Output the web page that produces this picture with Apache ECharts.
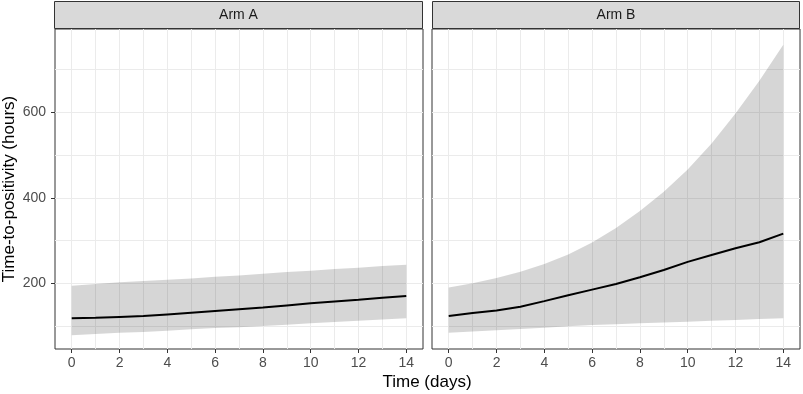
<!DOCTYPE html>
<html>
<head>
<meta charset="utf-8">
<script src="https://cdn.jsdelivr.net/npm/echarts@6/dist/echarts.min.js"></script>
<style>
  html, body { margin: 0; padding: 0; background: #fff; }
  #container_01 { width: 803px; height: 394px; }
</style>
</head>
<body>
<div id="container_01"></div>
<script>
// data
const days = [0, 1, 2, 3, 4, 5, 6, 7, 8, 9, 10, 11, 12, 13, 14];

const armA_mean  = [118, 119, 121, 123, 127, 131, 135, 139, 143, 148, 153, 157, 161, 166, 170];
const armA_lower = [78, 81, 84, 86, 89, 92, 95, 97, 100, 103, 106, 109, 112, 115, 118];
const armA_upper = [194, 198, 202, 205, 208, 211, 215, 218, 222, 226, 229, 233, 236, 240, 243];

const armB_mean  = [123, 130, 136, 145, 158, 172, 185, 198, 214, 231, 250, 266, 282, 296, 316];
const armB_lower = [84, 87, 90, 93, 96, 99, 102, 104, 106, 108, 110, 112, 114, 116, 118];
const armB_upper = [190, 200, 212, 227, 245, 267, 295, 329, 369, 414, 466, 527, 597, 674, 758];

const panels = ['Arm A', 'Arm B'];

// tick labels / grid lines
const xTicks = [0, 2, 4, 6, 8, 10, 12, 14];
const xGrid  = [0, 1, 2, 3, 4, 5, 6, 7, 8, 9, 10, 11, 12, 13, 14];
const yTicks = [200, 400, 600];
const yGrid  = [100, 200, 300, 400, 500, 600, 700];

const font = "'Liberation Sans', Arial, sans-serif";
const xMin = -0.7, xMax = 14.7;
const yMin = 46, yMax = 795;

function pairs(xs, ys) {
    return xs.map(function (x, i) { return [x, ys[i]]; });
}

// ribbon (custom polygon) + mean line for one panel
function armSeries(idx, lower, upper, mean) {
    let xi = idx * 2, yi = idx === 0 ? 0 : 2;
    let rows = days.map(function (d, i) { return [d, lower[i], upper[i]]; });
    return [
        {
            type: 'custom', xAxisIndex: xi, yAxisIndex: yi, silent: true, z: 2,
            encode: { x: 0, y: [1, 2] },
            renderItem: function (params, api) {
                if (params.dataIndex !== 0) return;
                let pts = [];
                for (let i = 0; i < days.length; i++) pts.push(api.coord([days[i], upper[i]]));
                for (let i = days.length - 1; i >= 0; i--) pts.push(api.coord([days[i], lower[i]]));
                return { type: 'polygon', shape: { points: pts }, style: { fill: 'rgba(0,0,0,0.16)' } };
            },
            data: rows
        },
        {
            type: 'line', xAxisIndex: xi, yAxisIndex: yi,
            symbol: 'none', silent: true, z: 5,
            lineStyle: { color: '#000', width: 2 },
            data: pairs(days, mean)
        }
    ];
}

// x axes: one for grid lines, one for ticks + labels, per panel
function xAxes(g) {
    return [
        {
            gridIndex: g, type: 'value', min: xMin, max: xMax, position: 'bottom',
            axisLine: { show: false, onZero: false },
            axisTick: { show: false, customValues: xGrid },
            axisLabel: { show: false },
            splitLine: { show: true, lineStyle: { color: '#EBEBEB', width: 1 } }
        },
        {
            gridIndex: g, type: 'value', min: xMin, max: xMax, position: 'bottom',
            axisLine: { show: false, onZero: false },
            axisTick: { show: true, length: 4, customValues: xTicks, lineStyle: { color: '#333' } },
            axisLabel: { customValues: xTicks, color: '#4D4D4D', fontSize: 14, fontFamily: font, margin: 7 },
            splitLine: { show: false }
        }
    ];
}

var chartDom = document.getElementById('container_01');
var myChart = echarts.init(chartDom, null, { renderer: 'canvas' });
var option;

option = {
    animation: false,
    backgroundColor: '#fff',
    grid: [
        { left: 54, top: 29, width: 369, height: 320, show: true, borderColor: '#333', borderWidth: 1, backgroundColor: 'transparent' },
        { left: 432, top: 29, width: 368, height: 320, show: true, borderColor: '#333', borderWidth: 1, backgroundColor: 'transparent' }
    ],
    xAxis: xAxes(0).concat(xAxes(1)),
    yAxis: [
        {
            gridIndex: 0, type: 'value', min: yMin, max: yMax, position: 'left',
            name: 'Time-to-positivity (hours)', nameLocation: 'middle', nameGap: 37,
            nameTextStyle: { fontSize: 17, color: '#000', fontFamily: font },
            axisLine: { show: false, onZero: false },
            axisTick: { show: false, customValues: yGrid },
            axisLabel: { show: false },
            splitLine: { show: true, lineStyle: { color: '#EBEBEB', width: 1 } }
        },
        {
            gridIndex: 0, type: 'value', min: yMin, max: yMax, position: 'left',
            axisLine: { show: false, onZero: false },
            axisTick: { show: true, length: 4, customValues: yTicks, lineStyle: { color: '#333' } },
            axisLabel: { customValues: yTicks, color: '#4D4D4D', fontSize: 14, fontFamily: font, margin: 9 },
            splitLine: { show: false }
        },
        {
            gridIndex: 1, type: 'value', min: yMin, max: yMax, position: 'left',
            axisLine: { show: false, onZero: false },
            axisTick: { show: false, customValues: yGrid },
            axisLabel: { show: false },
            splitLine: { show: true, lineStyle: { color: '#EBEBEB', width: 1 } }
        }
    ],
    series: armSeries(0, armA_lower, armA_upper, armA_mean)
        .concat(armSeries(1, armB_lower, armB_upper, armB_mean)),
    graphic: [
        // facet strips
        { type: 'rect', shape: { x: 54.5, y: 1.5, width: 368, height: 27 }, style: { fill: '#D9D9D9', stroke: '#333', lineWidth: 1 } },
        { type: 'text', x: 238.5, y: 15, style: { text: panels[0], fill: '#1A1A1A', font: '14px ' + font, align: 'center', verticalAlign: 'middle' } },
        { type: 'rect', shape: { x: 432.5, y: 1.5, width: 367, height: 27 }, style: { fill: '#D9D9D9', stroke: '#333', lineWidth: 1 } },
        { type: 'text', x: 616, y: 15, style: { text: panels[1], fill: '#1A1A1A', font: '14px ' + font, align: 'center', verticalAlign: 'middle' } },
        // shared x title
        { type: 'text', x: 427, y: 382, style: { text: 'Time (days)', fill: '#000', font: '17px ' + font, align: 'center', verticalAlign: 'middle' } }
    ]
};

option && myChart.setOption(option);
</script>
</body>
</html>
